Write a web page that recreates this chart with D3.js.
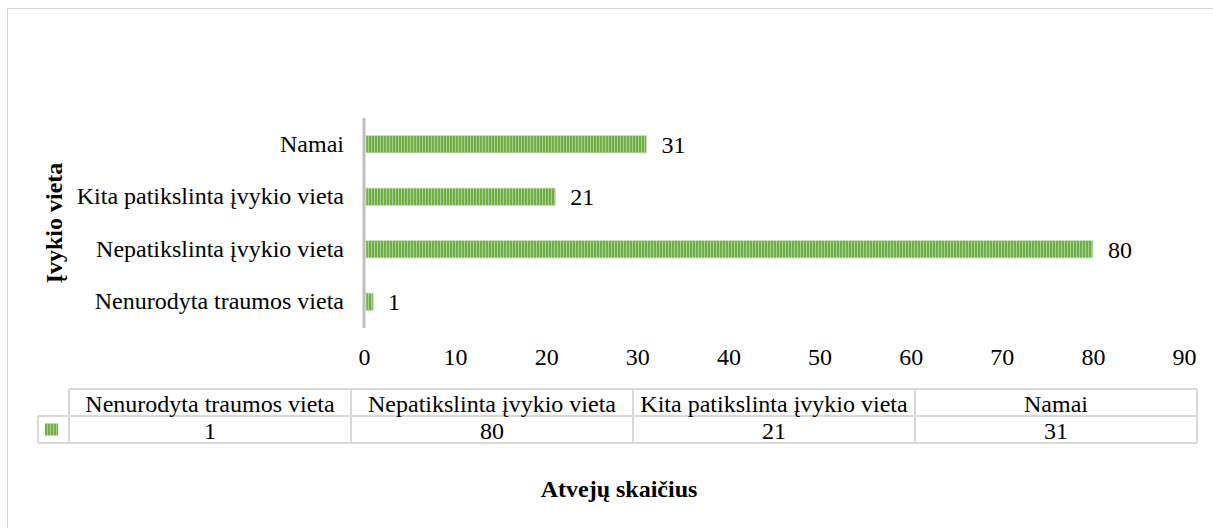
<!DOCTYPE html>
<html>
<head>
<meta charset="utf-8">
<script src="https://cdn.jsdelivr.net/npm/d3@7"></script>
<style>
  body { margin: 0; background: #fff; }
  text { font-family: "Liberation Serif", "Times New Roman", serif; fill: #000; }
</style>
</head>
<body>
<svg width="1213" height="528"></svg>
<script>
var categories = ["Nenurodyta traumos vieta", "Nepatikslinta įvykio vieta", "Kita patikslinta įvykio vieta", "Namai"];
var values = [1, 80, 21, 31];
var xTicks = [0, 10, 20, 30, 40, 50, 60, 70, 80, 90];
var xTitle = "Atvejų skaičius";
var yTitle = "Įvykio vieta";

var fs = "24px";
var svg = d3.select("svg"),
    width = +svg.attr("width"),
    height = +svg.attr("height");

// outer frame
svg.append("rect")
    .attr("x", 7.5).attr("y", 8.5)
    .attr("width", 1230).attr("height", 540)
    .attr("fill", "none").attr("stroke", "#d9d9d9");

// striped fill
var defs = svg.append("defs");
var pat = defs.append("pattern")
    .attr("id", "stripes")
    .attr("patternUnits", "userSpaceOnUse")
    .attr("width", 3).attr("height", 10);
pat.append("rect").attr("width", 3).attr("height", 10).attr("fill", "#a9d18e");
pat.append("rect").attr("width", 2).attr("height", 10).attr("fill", "#70ad47");

var x = d3.scaleLinear().domain([0, 90]).range([364, 1184]);
var y = d3.scaleBand()
    .domain(categories.slice().reverse())
    .range([118, 328])
    .paddingInner(0.67).paddingOuter(0.335);

// bars
svg.selectAll(".bar")
    .data(values)
    .enter().append("rect")
    .attr("class", "bar")
    .attr("x", x(0) + 2)
    .attr("y", function(d, i) { return y(categories[i]); })
    .attr("width", function(d) { return x(d) - x(0) - 2; })
    .attr("height", y.bandwidth())
    .attr("fill", "url(#stripes)")
    .attr("stroke", "#c5e0b4")
    .attr("stroke-width", 0.8);

// value labels
svg.selectAll(".val")
    .data(values)
    .enter().append("text")
    .attr("class", "val")
    .attr("x", function(d) { return x(d) + 15; })
    .attr("y", function(d, i) { return y(categories[i]) + y.bandwidth() / 2; })
    .attr("dy", "0.35em")
    .style("font-size", fs)
    .text(function(d) { return d; });

// category axis
var yAxis = svg.append("g")
    .attr("transform", "translate(" + x(0) + ",0)")
    .call(d3.axisLeft(y).tickSize(0).tickPadding(20));
yAxis.select(".domain").remove();
yAxis.selectAll("text")
    .style("font-size", fs)
    .style("font-family", "Liberation Serif, serif");
svg.append("line")
    .attr("x1", x(0)).attr("x2", x(0))
    .attr("y1", 118).attr("y2", 328)
    .attr("stroke", "#bfbfbf").attr("stroke-width", 3);

// value axis (labels only)
var xAxis = svg.append("g")
    .attr("transform", "translate(0,357)")
    .call(d3.axisBottom(x).tickValues(xTicks).tickSize(0).tickPadding(0));
xAxis.select(".domain").remove();
xAxis.selectAll("text")
    .attr("y", 0).attr("dy", "0.35em")
    .style("font-size", fs)
    .style("font-family", "Liberation Serif, serif");

// data table
var colX = d3.scaleBand().domain(categories).range([69, 1197]);
var top0 = 389, rowH = 27;
var tg = svg.append("g").attr("stroke", "#d9d9d9").attr("stroke-width", 2).attr("fill", "none");
tg.append("line").attr("x1", 69).attr("x2", 1197).attr("y1", top0).attr("y2", top0);
tg.append("line").attr("x1", 38).attr("x2", 1197).attr("y1", top0 + rowH).attr("y2", top0 + rowH);
tg.append("line").attr("x1", 38).attr("x2", 1197).attr("y1", top0 + 2 * rowH).attr("y2", top0 + 2 * rowH);
tg.append("line").attr("x1", 38).attr("x2", 38).attr("y1", top0 + rowH).attr("y2", top0 + 2 * rowH);
tg.append("line").attr("x1", 69).attr("x2", 69).attr("y1", top0).attr("y2", top0 + 2 * rowH);
categories.forEach(function(c) {
  tg.append("line")
    .attr("x1", colX(c) + colX.bandwidth()).attr("x2", colX(c) + colX.bandwidth())
    .attr("y1", top0).attr("y2", top0 + 2 * rowH);
});

svg.selectAll(".th")
    .data(categories)
    .enter().append("text")
    .attr("class", "th")
    .attr("x", function(d) { return colX(d) + colX.bandwidth() / 2; })
    .attr("y", top0 + rowH / 2 + 1)
    .attr("dy", "0.35em")
    .attr("text-anchor", "middle")
    .style("font-size", fs)
    .text(function(d) { return d; });

svg.selectAll(".td")
    .data(values)
    .enter().append("text")
    .attr("class", "td")
    .attr("x", function(d, i) { return colX(categories[i]) + colX.bandwidth() / 2; })
    .attr("y", top0 + rowH * 1.5 + 1)
    .attr("dy", "0.35em")
    .attr("text-anchor", "middle")
    .style("font-size", fs)
    .text(function(d) { return d; });

// legend key in table
svg.append("rect")
    .attr("x", 45).attr("y", top0 + rowH * 1.5 - 6)
    .attr("width", 13).attr("height", 12)
    .attr("fill", "url(#stripes)");

// titles
svg.append("text")
    .attr("x", 619).attr("y", 489)
    .attr("dy", "0.35em")
    .attr("text-anchor", "middle")
    .style("font-size", fs)
    .style("font-weight", "bold")
    .text(xTitle);

svg.append("text")
    .attr("transform", "translate(54,223) rotate(-90)")
    .attr("dy", "0.35em")
    .attr("text-anchor", "middle")
    .style("font-size", fs)
    .style("font-weight", "bold")
    .text(yTitle);
</script>
</body>
</html>
